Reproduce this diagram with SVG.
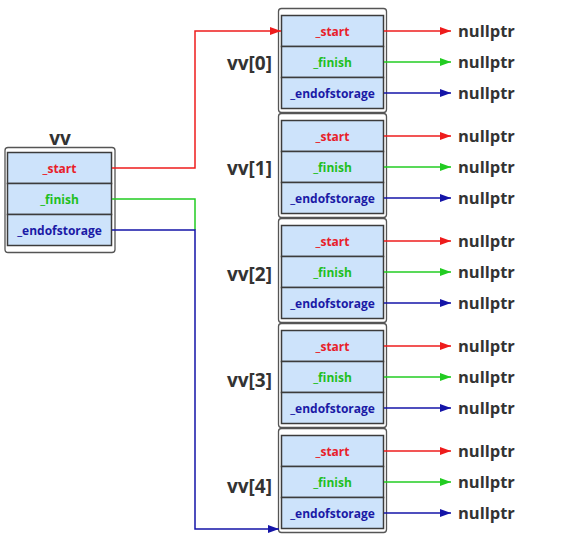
<svg xmlns="http://www.w3.org/2000/svg" width="563" height="546" viewBox="0 0 563 546">
<style>
.outer{fill:#fff;stroke:#555;stroke-width:1.3}
.cell{fill:#cde3fb;stroke:#3c3c3c;stroke-width:1.5}
.ft{font-family:"Open Sans","Noto Sans",sans-serif;font-size:12px;font-weight:700;text-anchor:middle}
.s{fill:#e8202a}.f{fill:#1fbf1f}.e{fill:#1a1aa6}
.lbl{font-family:"Open Sans","Noto Sans",sans-serif;font-size:19px;font-weight:700;fill:#333}
.np{font-family:"Open Sans","Noto Sans",sans-serif;font-size:16.5px;font-weight:700;fill:#333}
.r{stroke:#ee1c1c}.g{stroke:#22cc22}.b{stroke:#1414a8}
.c{fill:none;stroke-width:1.5}
</style>
<defs>
<marker id="ar" markerUnits="userSpaceOnUse" markerWidth="12" markerHeight="10" refX="11" refY="5" orient="auto"><path d="M0,1 L11,5 L0,9 z" fill="#ee1c1c"/></marker>
<marker id="ag" markerUnits="userSpaceOnUse" markerWidth="12" markerHeight="10" refX="11" refY="5" orient="auto"><path d="M0,1 L11,5 L0,9 z" fill="#22cc22"/></marker>
<marker id="ab" markerUnits="userSpaceOnUse" markerWidth="12" markerHeight="10" refX="11" refY="5" orient="auto"><path d="M0,1 L11,5 L0,9 z" fill="#1414a8"/></marker>
<g id="cellset">
<rect class="cell" x="0" y="0" width="102" height="31"/>
<rect class="cell" x="0" y="31" width="102" height="31"/>
<rect class="cell" x="0" y="62" width="102" height="31"/>
<text class="ft s" x="51" y="20.5">_start</text>
<text class="ft f" x="51" y="51.5">_finish</text>
<text class="ft e" x="51" y="82.5">_endofstorage</text>
</g>
</defs>

<g id="vv">
<text class="lbl" x="60" y="145" text-anchor="middle">vv</text>
<rect class="outer" x="5" y="147.5" width="110" height="105" rx="3"/>
<rect class="cell" x="7.5" y="152.5" width="104" height="31"/>
<rect class="cell" x="7.5" y="183.5" width="104" height="31"/>
<rect class="cell" x="7.5" y="214.5" width="104" height="31"/>
<text class="ft s" x="59.5" y="173">_start</text>
<text class="ft f" x="59.5" y="204">_finish</text>
<text class="ft e" x="59.5" y="235">_endofstorage</text>
</g>

<g id="vv0">
<text class="lbl" x="272" y="70" text-anchor="end">vv[0]</text>
<rect class="outer" x="278.5" y="8.5" width="108" height="104" rx="3"/>
<use href="#cellset" x="281.5" y="15.5"/>
</g>
<g id="vv1">
<text class="lbl" x="272" y="175" text-anchor="end">vv[1]</text>
<rect class="outer" x="278.5" y="113.5" width="108" height="104" rx="3"/>
<use href="#cellset" x="281.5" y="120.5"/>
</g>
<g id="vv2">
<text class="lbl" x="272" y="281" text-anchor="end">vv[2]</text>
<rect class="outer" x="278.5" y="218.5" width="108" height="104" rx="3"/>
<use href="#cellset" x="281.5" y="225.5"/>
</g>
<g id="vv3">
<text class="lbl" x="272" y="387" text-anchor="end">vv[3]</text>
<rect class="outer" x="278.5" y="323.5" width="108" height="104" rx="3"/>
<use href="#cellset" x="281.5" y="330.5"/>
</g>
<g id="vv4">
<text class="lbl" x="272" y="493" text-anchor="end">vv[4]</text>
<rect class="outer" x="278.5" y="428.5" width="108" height="104" rx="3"/>
<use href="#cellset" x="281.5" y="435.5"/>
</g>

<g id="nulls" class="np">
<text x="458" y="37">nullptr</text><text x="458" y="68">nullptr</text><text x="458" y="99">nullptr</text>
<text x="458" y="142">nullptr</text><text x="458" y="173">nullptr</text><text x="458" y="204">nullptr</text>
<text x="458" y="247">nullptr</text><text x="458" y="278">nullptr</text><text x="458" y="309">nullptr</text>
<text x="458" y="352">nullptr</text><text x="458" y="383">nullptr</text><text x="458" y="414">nullptr</text>
<text x="458" y="457">nullptr</text><text x="458" y="488">nullptr</text><text x="458" y="519">nullptr</text>
</g>

<g id="connectors" class="c">
<path class="c r" d="M112,168 H195 V31 H281" marker-end="url(#ar)"/>
<path class="c g" d="M112,199 H195 V230"/>
<path class="c b" d="M112,230 H195 V529 H279" marker-end="url(#ab)"/>
<path class="c r" d="M384,31 H451" marker-end="url(#ar)"/>
<path class="c g" d="M384,62 H451" marker-end="url(#ag)"/>
<path class="c b" d="M384,93 H451" marker-end="url(#ab)"/>
<path class="c r" d="M384,136 H451" marker-end="url(#ar)"/>
<path class="c g" d="M384,167 H451" marker-end="url(#ag)"/>
<path class="c b" d="M384,198 H451" marker-end="url(#ab)"/>
<path class="c r" d="M384,241 H451" marker-end="url(#ar)"/>
<path class="c g" d="M384,272 H451" marker-end="url(#ag)"/>
<path class="c b" d="M384,303 H451" marker-end="url(#ab)"/>
<path class="c r" d="M384,346 H451" marker-end="url(#ar)"/>
<path class="c g" d="M384,377 H451" marker-end="url(#ag)"/>
<path class="c b" d="M384,408 H451" marker-end="url(#ab)"/>
<path class="c r" d="M384,451 H451" marker-end="url(#ar)"/>
<path class="c g" d="M384,482 H451" marker-end="url(#ag)"/>
<path class="c b" d="M384,513 H451" marker-end="url(#ab)"/>
</g>
</svg>
